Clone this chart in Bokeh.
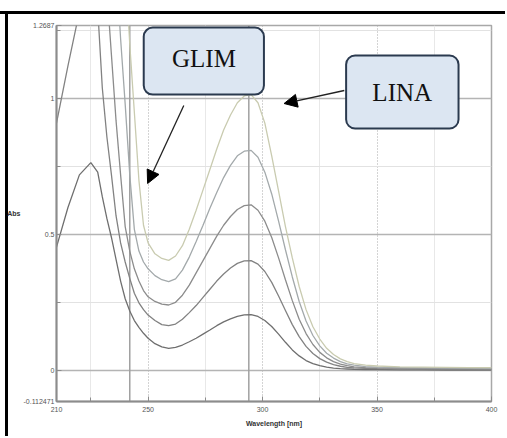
from bokeh.plotting import figure
from bokeh.models import (FixedTicker, Span, BoxAnnotation, Label, Arrow,
                          NormalHead, Range1d)
from bokeh.embed import file_html
from bokeh.resources import INLINE

# ---- data ----
wavelength_nm = [210, 215, 220, 225, 228, 230, 232, 234, 236, 238, 240, 242, 244,
                 246, 248, 250, 253, 256, 259, 262, 265, 268, 271, 274, 277, 280,
                 283, 286, 289, 292, 295, 298, 301, 304, 307, 310, 313, 316, 319,
                 322, 325, 328, 331, 334, 337, 340, 345, 350, 360, 370, 380, 390, 400]

abs_1 = [0.455, 0.60, 0.72, 0.765, 0.73, 0.64, 0.56, 0.49, 0.41, 0.33, 0.265, 0.22, 0.185,
         0.16, 0.138, 0.12, 0.10, 0.088, 0.083, 0.086, 0.095, 0.107, 0.12, 0.135, 0.15, 0.166,
         0.18, 0.191, 0.2, 0.206, 0.207, 0.2, 0.185, 0.163, 0.135, 0.105, 0.077, 0.055, 0.038,
         0.027, 0.019, 0.014, 0.01, 0.008, 0.007, 0.006, 0.005, 0.005, 0.004, 0.004, 0.003, 0.003, 0.003]

abs_2 = [0.91, 1.12, 1.32, 1.45, 1.33, 1.04, 0.86, 0.72, 0.57, 0.47, 0.40, 0.34, 0.285,
         0.25, 0.225, 0.205, 0.185, 0.17, 0.166, 0.172, 0.19, 0.214, 0.24, 0.27, 0.3, 0.33,
         0.356, 0.378, 0.395, 0.404, 0.405, 0.392, 0.365, 0.325, 0.275, 0.222, 0.17, 0.126, 0.09,
         0.064, 0.045, 0.032, 0.023, 0.017, 0.013, 0.011, 0.009, 0.008, 0.007, 0.006, 0.006, 0.005, 0.005]

abs_3 = [1.55, 1.9, 2.15, 2.25, 2.0, 1.7, 1.40, 1.16, 0.92, 0.72, 0.53, 0.44, 0.375,
         0.33, 0.295, 0.272, 0.255, 0.245, 0.242, 0.252, 0.278, 0.315, 0.36, 0.405, 0.45, 0.495,
         0.535, 0.567, 0.593, 0.607, 0.61, 0.59, 0.55, 0.49, 0.415, 0.335, 0.258, 0.19, 0.137,
         0.097, 0.068, 0.048, 0.034, 0.025, 0.019, 0.015, 0.012, 0.011, 0.01, 0.009, 0.008, 0.008, 0.007]

abs_4 = [2.2, 2.6, 2.9, 3.0, 2.8, 2.5, 2.1, 1.8, 1.5, 1.22, 0.98, 0.72, 0.52,
         0.44, 0.40, 0.375, 0.35, 0.335, 0.328, 0.338, 0.37, 0.418, 0.475, 0.535, 0.597, 0.655,
         0.71, 0.755, 0.79, 0.807, 0.81, 0.785, 0.73, 0.65, 0.55, 0.445, 0.345, 0.255, 0.183,
         0.13, 0.092, 0.065, 0.047, 0.034, 0.026, 0.021, 0.016, 0.014, 0.012, 0.011, 0.01, 0.01, 0.009]

abs_5 = [2.8, 3.2, 3.5, 3.6, 3.4, 3.1, 2.7, 2.4, 2.1, 1.8, 1.5, 1.2, 0.95,
         0.70, 0.535, 0.47, 0.43, 0.413, 0.406, 0.422, 0.46, 0.52, 0.59, 0.665, 0.74, 0.815,
         0.885, 0.94, 0.985, 1.01, 1.015, 0.985, 0.91, 0.79, 0.66, 0.53, 0.415, 0.31, 0.225,
         0.162, 0.117, 0.083, 0.06, 0.044, 0.034, 0.027, 0.021, 0.018, 0.015, 0.014, 0.013, 0.012, 0.012]

series = [abs_1, abs_2, abs_3, abs_4, abs_5]
series_colors = ["#6f6f6f", "#828282", "#8c8c8c", "#a3a9ab", "#c9cbb0"]

cursor_nm = [242, 294]

x_ticks = [210, 250, 300, 350, 400]
x_minor = [225, 275, 325, 375]
y_ticks = [-0.112471, 0, 0.5, 1, 1.2687]
y_tick_labels = ["-0.112471", "0", "0.5", "1", "1.2687"]
y_minor = [0.25, 0.75, 1.25]

# ---- figure ----
p = figure(width=505, height=436, x_range=Range1d(210, 400),
           y_range=Range1d(-0.112471, 1.2687),
           output_backend="svg", toolbar_location=None,
           min_border_left=56, min_border_top=25, min_border_right=14, min_border_bottom=35)

p.border_fill_color = None
p.background_fill_color = "white"
p.outline_line_color = "#a8a8a8"
p.outline_line_width = 1.5
p.styles = {
    "background-image": "linear-gradient(#000,#000), linear-gradient(#000,#000)",
    "background-size": "100% 3px, 3px 100%",
    "background-position": "0 11px, 5px 11px",
    "background-repeat": "no-repeat",
}

p.xaxis.ticker = FixedTicker(ticks=x_ticks, minor_ticks=x_minor)
p.yaxis.ticker = FixedTicker(ticks=y_ticks, minor_ticks=y_minor)
p.yaxis.major_label_overrides = {t: s for t, s in zip(y_ticks, y_tick_labels)}

for ax in (p.xaxis, p.yaxis):
    ax.axis_line_color = "#8c8c8c"
    ax.axis_line_width = 2
    ax.major_tick_line_color = "#8c8c8c"
    ax.minor_tick_line_color = "#8c8c8c"
    ax.major_tick_in = 5
    ax.major_tick_out = 0
    ax.minor_tick_in = 4
    ax.minor_tick_out = 0
    ax.major_label_text_font = "Liberation Sans"
    ax.major_label_text_font_size = "7px"
    ax.major_label_text_color = "#555555"
    ax.axis_label_text_font = "Liberation Sans"
    ax.axis_label_text_font_size = "7px"
    ax.axis_label_text_font_style = "bold"
    ax.axis_label_text_color = "#333333"

p.xaxis.axis_label = "Wavelength [nm]"
p.xaxis.major_label_standoff = 5
p.xaxis.axis_label_standoff = 5
p.yaxis.axis_label = "Abs"
p.yaxis.axis_label_orientation = "horizontal"
p.yaxis.major_label_standoff = 2
p.yaxis.axis_label_standoff = 0

p.xgrid.grid_line_color = "#a8a8a8"
p.xgrid.grid_line_dash = "1 2"
p.xgrid.grid_line_width = 1
p.xgrid.minor_grid_line_color = "#e8e8e8"
p.xgrid.minor_grid_line_width = 1
p.ygrid.grid_line_color = "#b4b4b4"
p.ygrid.grid_line_width = 1.6
p.ygrid.minor_grid_line_color = "#e2e2e2"
p.ygrid.minor_grid_line_width = 1

for c in cursor_nm:
    p.add_layout(Span(location=c, dimension="height", line_color="#a0a0a0",
                      line_width=1.5, level="underlay"))

for vals, col in zip(series, series_colors):
    p.line(wavelength_nm, vals, line_color=col, line_width=1.3)

# ---- callouts ----
box_fill = "#dce6f2"
box_line = "#2b3a4f"
p.add_layout(BoxAnnotation(left=248.1, right=300.6, top=1.261, bottom=1.015,
                           fill_color=box_fill, fill_alpha=1, line_color=box_line,
                           line_alpha=1, line_width=2, border_radius=9, level="annotation"))
p.add_layout(BoxAnnotation(left=336.5, right=385.6, top=1.1585, bottom=0.8903,
                           fill_color=box_fill, fill_alpha=1, line_color=box_line,
                           line_alpha=1, line_width=2, border_radius=9, level="annotation"))
p.add_layout(Label(x=274.4, y=1.147, text="GLIM", text_align="center",
                   text_baseline="middle", text_font="Liberation Serif",
                   text_font_size="25px", text_color="#111111", level="overlay"))
p.add_layout(Label(x=361.0, y=1.0226, text="LINA", text_align="center",
                   text_baseline="middle", text_font="Liberation Serif",
                   text_font_size="25px", text_color="#111111", level="overlay"))

p.add_layout(Arrow(x_start=265.6, y_start=0.975, x_end=249.8, y_end=0.6883,
                   line_color="#222222", line_width=1.3,
                   end=NormalHead(size=13, fill_color="black", line_color="black")))
p.add_layout(Arrow(x_start=335.7, y_start=1.0299, x_end=309.4, y_end=0.9821,
                   line_color="#222222", line_width=1.3,
                   end=NormalHead(size=13, fill_color="black", line_color="black")))

open("out.html", "w").write(file_html(p, INLINE))
